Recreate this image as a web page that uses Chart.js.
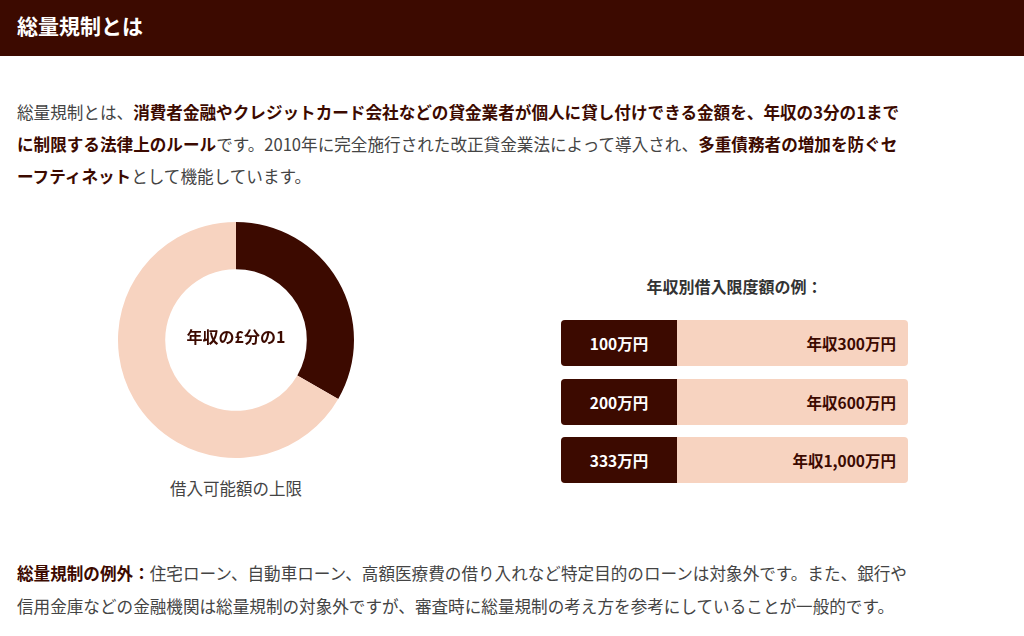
<!DOCTYPE html>
<html><head><meta charset="utf-8">
<script src="https://cdn.jsdelivr.net/npm/chart.js@4"></script>
<style>
body{margin:0;width:1024px;height:636px;background:#fff;font-family:"Noto Sans CJK JP","Noto Sans",sans-serif;color:#444;overflow:hidden;position:relative}
.hd{position:absolute;left:0;top:0;width:1024px;height:56px;background:#3c0a00;color:#fff;font-weight:bold;font-size:21px;line-height:50px;padding-left:17px;box-sizing:border-box}
.p{position:absolute;left:17px;white-space:nowrap;font-size:16.6px;line-height:34px;color:#444}
b{color:#3c0a00}
#cw{position:absolute;left:112px;top:216px;width:248px;height:248px}
.ct{position:absolute;left:112px;top:324px;width:248px;text-align:center;font-weight:bold;font-size:16px;color:#3c0a00}
.cap{position:absolute;left:112px;top:476px;width:248px;text-align:center;font-size:16.5px;color:#444}
.tt{position:absolute;left:561px;top:274px;width:347px;text-align:center;font-weight:bold;font-size:16px;color:#333}
.row{position:absolute;left:561px;width:347px;height:46px;border-radius:4px;overflow:hidden;background:#f7d3c0;font-weight:bold;font-size:15.5px}
.row .a{position:absolute;left:0;top:0;width:116px;height:46px;background:#3c0a00;color:#fff;text-align:center;line-height:46px}
.row .b{position:absolute;right:12px;top:0;line-height:46px;color:#3c0a00}
</style></head><body>
<div class="hd">総量規制とは</div>
<div class="p" style="top:95px">総量規制とは、<b>消費者金融やクレジットカード会社などの貸金業者が個人に貸し付けできる金額を、年収の3分の1まで</b></div>
<div class="p" style="top:127px"><b>に制限する法律上のルール</b>です。2010年に完全施行された改正貸金業法によって導入され、<b>多重債務者の増加を防ぐセ</b></div>
<div class="p" style="top:159px"><b>ーフティネット</b>として機能しています。</div>
<div id="cw"><canvas id="c"></canvas></div>
<div class="ct" id="ct"></div>
<div class="cap" id="cap"></div>
<div class="tt">年収別借入限度額の例：</div>
<div id="rows"></div>
<div class="p" style="top:556px"><b>総量規制の例外：</b>住宅ローン、自動車ローン、高額医療費の借り入れなど特定目的のローンは対象外です。また、銀行や</div>
<div class="p" style="top:589px">信用金庫などの金融機関は総量規制の対象外ですが、審査時に総量規制の考え方を参考にしていることが一般的です。</div>
<script>
const sliceLabels=["借入可能額","その他"];
const sliceValues=[1,2];
const centerText="年収の£分の1";
const captionText="借入可能額の上限";
const limitLabels=["100万円","200万円","333万円"];
const incomeLabels=["年収300万円","年収600万円","年収1,000万円"];
document.getElementById('ct').textContent=centerText;
document.getElementById('cap').textContent=captionText;
const tops=[320,379,437];
let h='';
limitLabels.forEach((l,i)=>{h+=`<div class="row" style="top:${tops[i]}px"><div class="a">${l}</div><div class="b">${incomeLabels[i]}</div></div>`;});
document.getElementById('rows').innerHTML=h;
new Chart(document.getElementById('c'),{type:'doughnut',
data:{labels:sliceLabels,datasets:[{data:sliceValues,backgroundColor:['#3c0a00','#f7d3c0'],borderWidth:0}]},
options:{responsive:true,maintainAspectRatio:false,animation:false,cutout:'60%',plugins:{legend:{display:false},tooltip:{enabled:false}},layout:{padding:6}}});
</script>
</body></html>
